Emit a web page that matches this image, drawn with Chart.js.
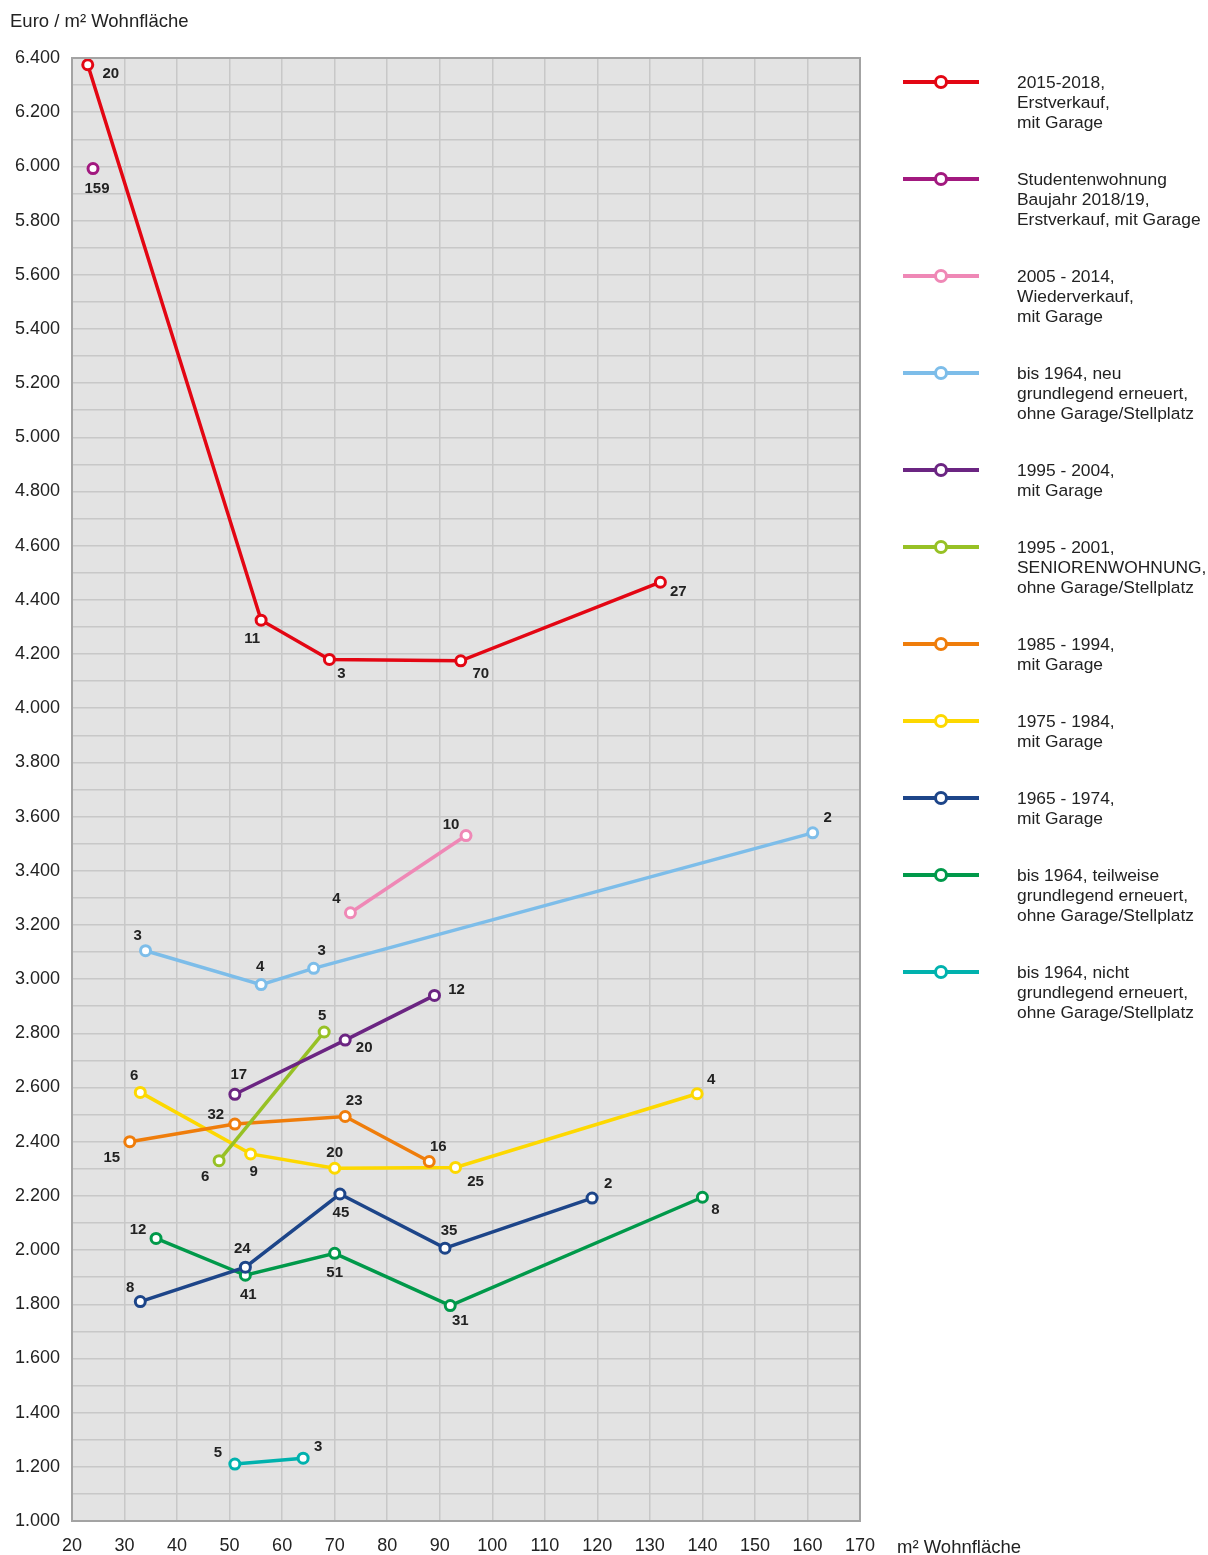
<!DOCTYPE html>
<html>
<head>
<meta charset="utf-8">
<script src="https://cdn.jsdelivr.net/npm/chart.js@4"></script>
<style>
    body { margin: 0; background: #fff; font-family: "Liberation Sans", Arial, sans-serif; color: #222; }
    #wrap { position: relative; width: 1208px; height: 1555px; }
    #chart { position: absolute; left: 0; top: 0; }
    .title { position: absolute; font-size: 18.5px; white-space: nowrap; }
    #legend { position: absolute; left: 903px; top: 72px; }
    .item { display: flex; margin-bottom: 37px; }
    .mark { position: relative; width: 114px; height: 20px; flex: none; }
    .mark .ln { position: absolute; left: 0; top: 8px; width: 76px; height: 3.5px; }
    .mark .dot { position: absolute; left: 31px; top: 3px; width: 8px; height: 8px; border-radius: 50%; background: #fff; border: 3px solid; }
    .txt { font-size: 17.4px; line-height: 20px; white-space: nowrap; }
</style>
</head>
<body>
<div id="wrap">
    <canvas id="chart" width="1208" height="1555"></canvas>
    <div class="title" style="left:10px; top:10px;">Euro / m² Wohnfläche</div>
    <div class="title" style="left:897px; top:1536px;">m² Wohnfläche</div>
    <div id="legend"></div>
</div>
<script>
// Series names (legend text, one line per entry)
const seriesNames = [
    ['2015-2018,', 'Erstverkauf,', 'mit Garage'],
    ['Studentenwohnung', 'Baujahr 2018/19,', 'Erstverkauf, mit Garage'],
    ['2005 - 2014,', 'Wiederverkauf,', 'mit Garage'],
    ['bis 1964, neu', 'grundlegend erneuert,', 'ohne Garage/Stellplatz'],
    ['1995 - 2004,', 'mit Garage'],
    ['1995 - 2001,', 'SENIORENWOHNUNG,', 'ohne Garage/Stellplatz'],
    ['1985 - 1994,', 'mit Garage'],
    ['1975 - 1984,', 'mit Garage'],
    ['1965 - 1974,', 'mit Garage'],
    ['bis 1964, teilweise', 'grundlegend erneuert,', 'ohne Garage/Stellplatz'],
    ['bis 1964, nicht', 'grundlegend erneuert,', 'ohne Garage/Stellplatz']
];
const seriesColors = ['#e30613', '#a2197f', '#ef88b6', '#7dbde9', '#6b2582', '#97c125',
    '#ef7d0b', '#fdd800', '#1d4589', '#00994a', '#00b2ae'];

// Wohnfläche (m²) per point
const area = [
    [23, 56, 69, 94, 132],
    [24],
    [73, 95],
    [34, 56, 66, 161],
    [51, 72, 89],
    [48, 68],
    [31, 51, 72, 88],
    [33, 54, 70, 93, 139],
    [33, 53, 71, 91, 119],
    [36, 53, 70, 92, 140],
    [51, 64]
];
// Euro / m² per point
const price = [
    [6375, 4325, 4180, 4175, 4465],
    [5992],
    [3245, 3530],
    [3105, 2980, 3040, 3540],
    [2575, 2775, 2940],
    [2330, 2805],
    [2400, 2465, 2493, 2327],
    [2582, 2355, 2302, 2305, 2577],
    [1810, 1937, 2207, 2007, 2192],
    [2043, 1907, 1988, 1795, 2195],
    [1210, 1232]
];
// number of sales per point
const counts = [
    [20, 11, 3, 70, 27],
    [159],
    [4, 10],
    [3, 4, 3, 2],
    [17, 20, 12],
    [6, 5],
    [15, 32, 23, 16],
    [6, 9, 20, 25, 4],
    [8, 24, 45, 35, 2],
    [12, 41, 51, 31, 8],
    [5, 3]
];
// where each count label sits relative to its point (px)
const labelOffsets = [
    [[23, 9], [-9, 19], [12, 14], [20, 13], [18, 10]],
    [[4, 20]],
    [[-14, -14], [-15, -11]],
    [[-8, -15], [-1, -18], [8, -17], [15, -15]],
    [[4, -19], [19, 8], [22, -6]],
    [[-14, 16], [-2, -16]],
    [[-18, 16], [-19, -9], [9, -16], [9, -15]],
    [[-6, -17], [3, 18], [0, -15], [20, 14], [14, -14]],
    [[-10, -14], [-3, -18], [1, 19], [4, -17], [16, -14]],
    [[-18, -9], [3, 20], [0, 20], [10, 15], [13, 13]],
    [[-17, -11], [15, -11]]
];

const font = '"Liberation Sans", Arial, sans-serif';

// Legend
const legend = document.getElementById('legend');
seriesNames.forEach((lines, i) => {
    const item = document.createElement('div');
    item.className = 'item';
    item.innerHTML = `
        <div class="mark">
            <div class="ln" style="background:${seriesColors[i]}"></div>
            <div class="dot" style="border-color:${seriesColors[i]}"></div>
        </div>
        <div class="txt">${lines.join('<br>')}</div>
    `;
    legend.appendChild(item);
});

// Plot background + frame
const plotFrame = {
    id: 'plotFrame',
    beforeDraw(chart) {
        const a = chart.chartArea;
        const ctx = chart.ctx;
        ctx.save();
        ctx.fillStyle = '#e3e3e3';
        ctx.fillRect(a.left, a.top, a.right - a.left, a.bottom - a.top);
        ctx.restore();
    },
    afterDraw(chart) {
        const a = chart.chartArea;
        const ctx = chart.ctx;
        ctx.save();
        ctx.strokeStyle = '#a3a3a3';
        ctx.lineWidth = 2;
        ctx.strokeRect(a.left, a.top, a.right - a.left, a.bottom - a.top);
        ctx.restore();
    }
};

// Count labels next to the points
const countLabels = {
    id: 'countLabels',
    afterDatasetsDraw(chart) {
        const ctx = chart.ctx;
        ctx.save();
        ctx.font = 'bold 15px ' + font;
        ctx.fillStyle = '#222';
        ctx.textAlign = 'center';
        ctx.textBaseline = 'middle';
        chart.data.datasets.forEach((ds, i) => {
            chart.getDatasetMeta(i).data.forEach((pt, j) => {
                const off = labelOffsets[i][j];
                ctx.fillText(String(counts[i][j]), pt.x + off[0], pt.y + off[1]);
            });
        });
        ctx.restore();
    }
};

const datasets = seriesNames.map((lines, i) => ({
    label: lines.join(' '),
    data: area[i].map((x, j) => ({ x: x, y: price[i][j] })),
    borderColor: seriesColors[i],
    borderWidth: 3.5,
    pointRadius: 5,
    pointBorderWidth: 3,
    pointBackgroundColor: '#fff',
    pointBorderColor: seriesColors[i],
    tension: 0,
    clip: false
}));

new Chart(document.getElementById('chart'), {
    type: 'line',
    data: { datasets: datasets },
    options: {
        responsive: false,
        animation: false,
        events: [],
        layout: { padding: { left: 0, top: 58, right: 348, bottom: 0 } },
        plugins: {
            legend: { display: false },
            tooltip: { enabled: false }
        },
        scales: {
            x: {
                type: 'linear',
                min: 20,
                max: 170,
                afterFit(scale) { scale.height = 34; },
                ticks: {
                    stepSize: 10,
                    padding: 14,
                    color: '#222',
                    font: { family: font, size: 18 },
                    maxRotation: 0
                },
                grid: { color: '#c8c8c8', lineWidth: 1.5, drawTicks: false },
                border: { color: '#a3a3a3', width: 2 }
            },
            y: {
                min: 1000,
                max: 6400,
                afterFit(scale) { scale.width = 72; },
                ticks: {
                    stepSize: 100,
                    autoSkip: false,
                    padding: 12,
                    color: '#222',
                    font: { family: font, size: 18 },
                    callback: v => v % 200 === 0 ? v.toLocaleString('de-DE') : ''
                },
                grid: { color: '#c8c8c8', lineWidth: 1.5, drawTicks: false },
                border: { color: '#a3a3a3', width: 2 }
            }
        }
    },
    plugins: [plotFrame, countLabels]
});
</script>
</body>
</html>
